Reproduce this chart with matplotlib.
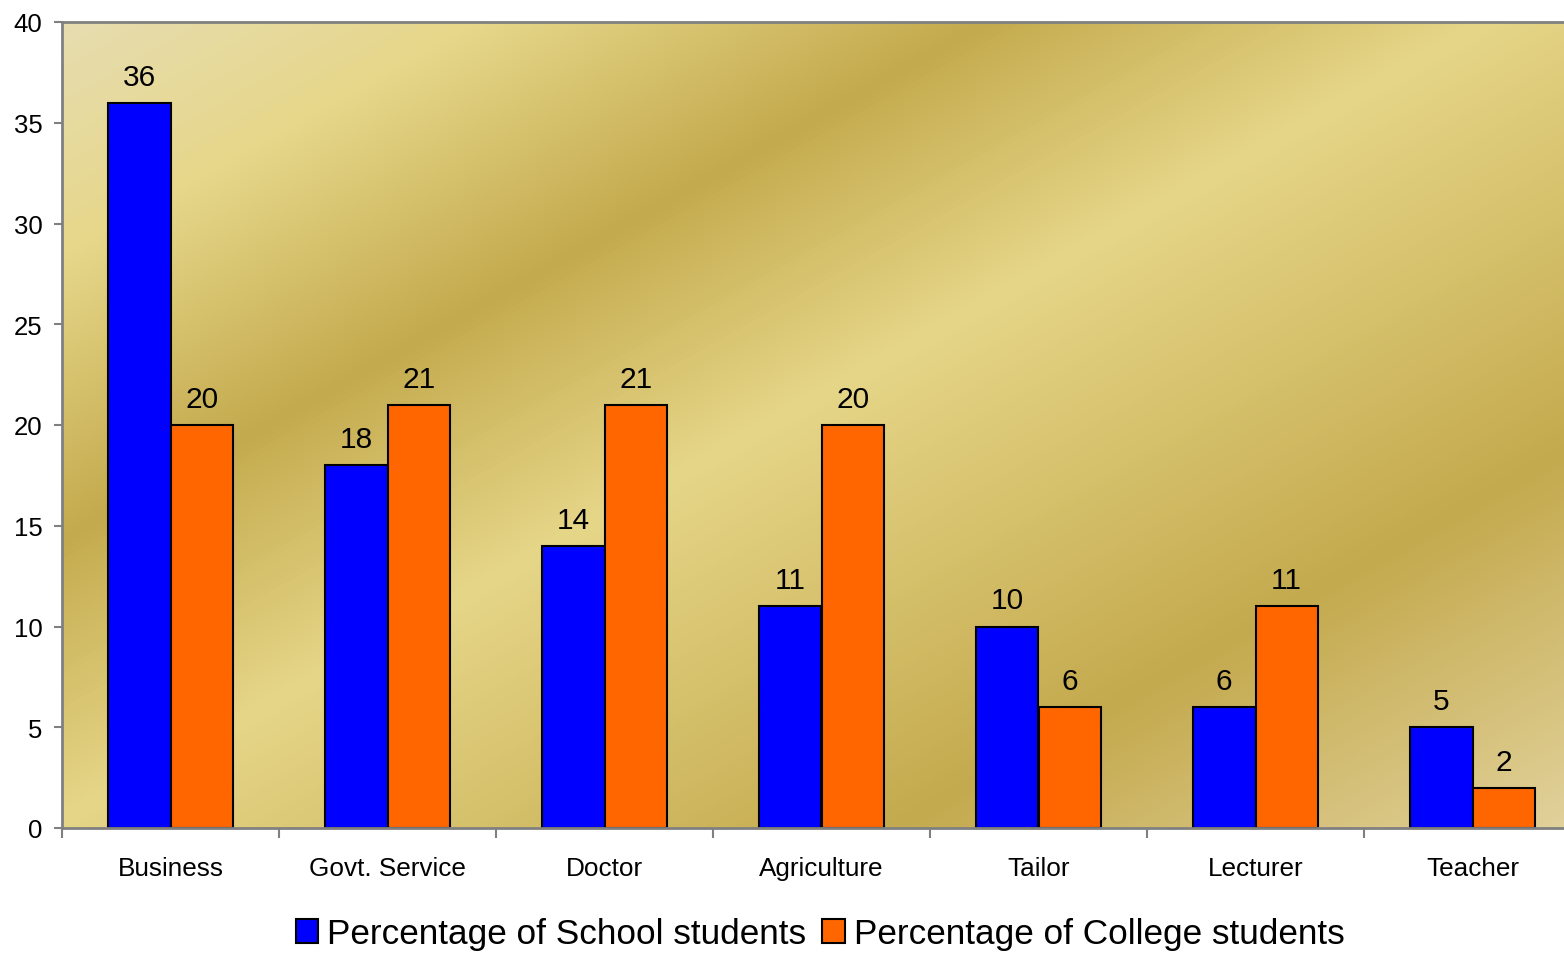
import numpy as np
import matplotlib.pyplot as plt
from matplotlib.colors import LinearSegmentedColormap

plt.rcParams['font.family'] = ['Liberation Sans', 'DejaVu Sans']

careers = ['Business', 'Govt. Service', 'Doctor', 'Agriculture', 'Tailor', 'Lecturer', 'Teacher']
school = [36, 18, 14, 11, 10, 6, 5]
college = [20, 21, 21, 20, 6, 11, 2]

fig = plt.figure(figsize=(15.64, 9.54), dpi=100)
# plot area runs a little past the right edge of the canvas
ax = fig.add_axes([62 / 1564, 1 - 829 / 954, 1519 / 1564, 806 / 954])

# diagonal gold gradient for the plot area
w, h = 1519, 806
px, py = np.meshgrid(np.arange(w), np.arange(h))
t = (0.56 * px + py) / (0.56 * w + h)
gold = LinearSegmentedColormap.from_list('gold', [
    (0.00, '#E6DDB0'),
    (0.14, '#E6D78A'),
    (0.31, '#C4AA4E'),
    (0.48, '#E6D688'),
    (0.77, '#C4AA4E'),
    (1.00, '#E2D29C'),
])
ax.imshow(t, cmap=gold, extent=(0, 1, 0, 1), transform=ax.transAxes,
          aspect='auto', zorder=0, interpolation='bilinear')

x = np.arange(len(careers))
width = 0.288
ax.bar(x - width / 2, school, width, color='#0000FF', edgecolor='black',
       linewidth=1.5, label='Percentage of School students', zorder=2)
ax.bar(x + width / 2, college, width, color='#FF6600', edgecolor='black',
       linewidth=1.5, label='Percentage of College students', zorder=2)

for i in range(len(careers)):
    ax.annotate(str(school[i]), (x[i] - width / 2, school[i]), xytext=(0, 13),
                textcoords='offset points', ha='center', va='baseline', fontsize=21.5)
    ax.annotate(str(college[i]), (x[i] + width / 2, college[i]), xytext=(0, 13),
                textcoords='offset points', ha='center', va='baseline', fontsize=21.5)

ax.set_xlim(-0.5, len(careers) - 0.5)
ax.set_ylim(0, 40)
ax.set_yticks(range(0, 41, 5))
ax.tick_params(axis='y', direction='out', length=6, width=1.5, color='#808080',
               labelsize=18.5, pad=8)

# category boundaries get the tick marks, names sit in between
ax.set_xticks(np.arange(-0.5, len(careers), 1))
ax.set_xticklabels([])
ax.set_xticks(x, minor=True)
ax.set_xticklabels(careers, minor=True)
ax.tick_params(axis='x', which='major', direction='out', length=7, width=1.5,
               color='#808080')
ax.tick_params(axis='x', which='minor', length=0, labelsize=18.8, pad=20)

for side in ['top', 'left', 'bottom', 'right']:
    ax.spines[side].set_color('#808080')
    ax.spines[side].set_linewidth(2)

fig.legend(loc='center', bbox_to_anchor=(820 / 1564, 1 - 935 / 954), ncol=2,
           frameon=False, fontsize=25.3, handlelength=0.65, handleheight=0.65,
           handletextpad=0.25, columnspacing=0.45)

fig.savefig('out.png', dpi=100)
